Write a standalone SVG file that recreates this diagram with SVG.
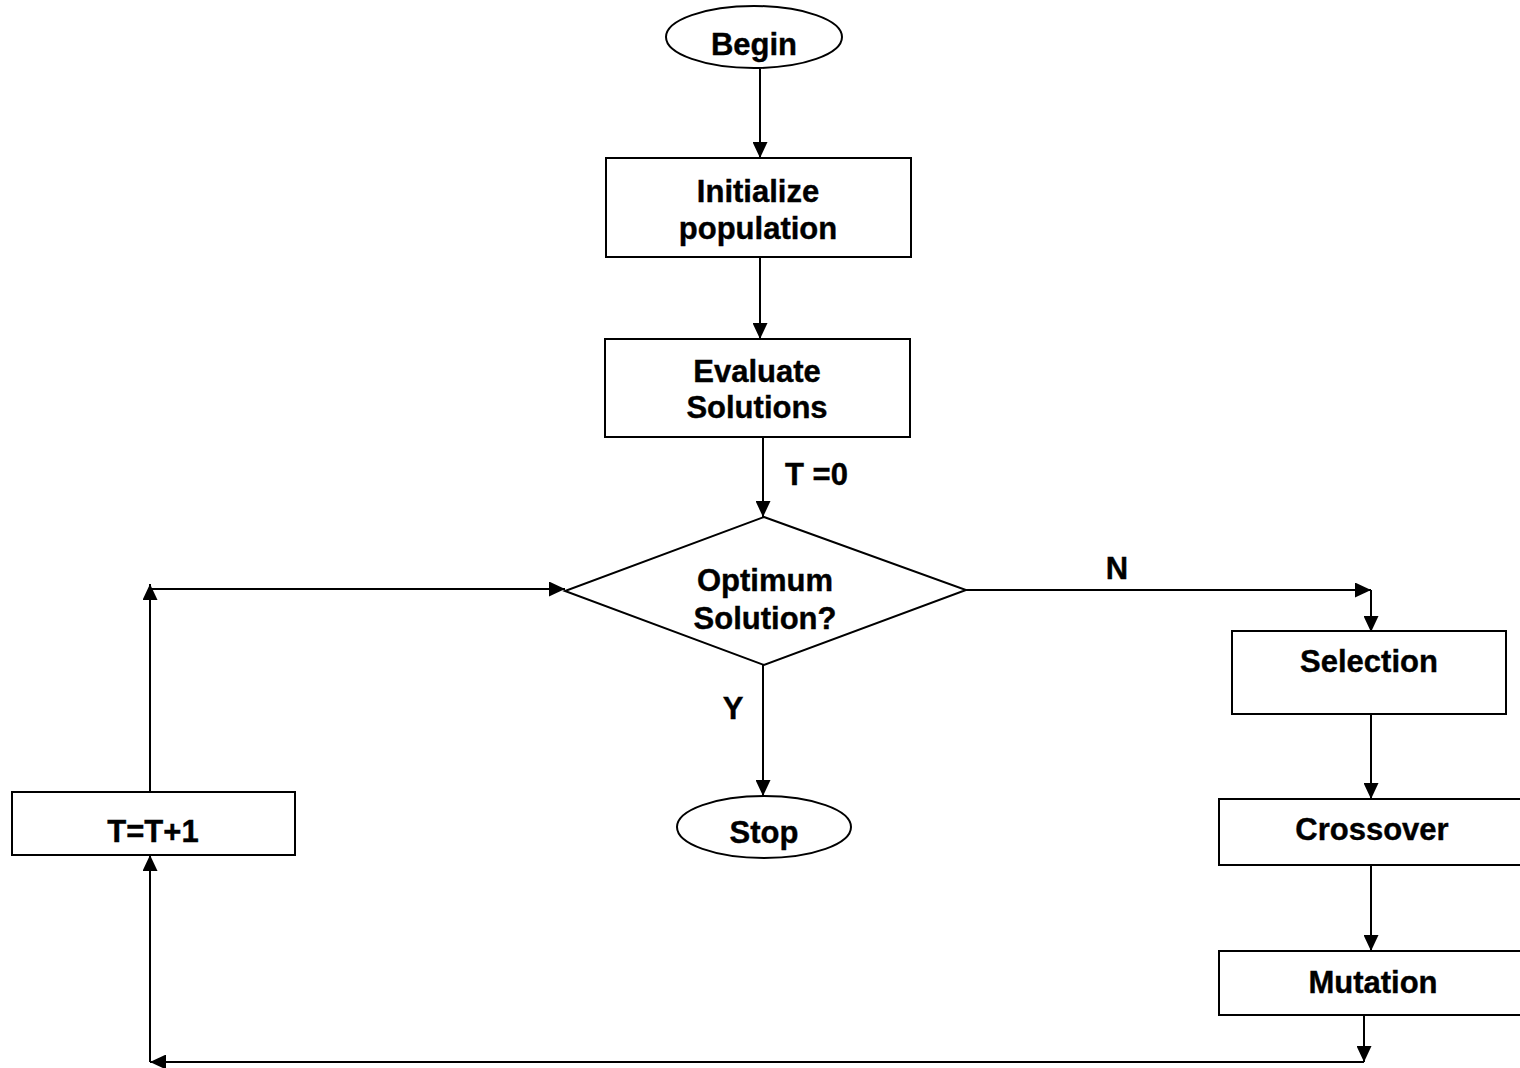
<svg xmlns="http://www.w3.org/2000/svg" width="1520" height="1068" viewBox="0 0 1520 1068">
<style>
.shape{fill:#fff;stroke:#000;stroke-width:2}
.lbl{font-family:"Liberation Sans",Arial,sans-serif;font-weight:bold;font-size:31px;fill:#000;stroke:#000;stroke-width:0.4;text-anchor:middle}
.conn{fill:none;stroke:#000;stroke-width:2}
</style>
<defs>
<marker id="arr" viewBox="0 0 16 15" refX="16" refY="7.5" markerWidth="16" markerHeight="15" orient="auto" markerUnits="userSpaceOnUse">
<path d="M0,0 L16,7.5 L0,15 z" fill="#000"/>
</marker>
</defs>
<rect width="1520" height="1068" fill="#fff"/>
<g id="connectors">
<path class="conn" d="M760,69 L760,158" marker-end="url(#arr)"/>
<path class="conn" d="M760,257 L760,339" marker-end="url(#arr)"/>
<path class="conn" d="M763,437 L763,517" marker-end="url(#arr)"/>
<path class="conn" d="M966,590 L1371,590" marker-end="url(#arr)"/>
<path class="conn" d="M1371,590 L1371,632" marker-end="url(#arr)"/>
<path class="conn" d="M1371,714 L1371,799" marker-end="url(#arr)"/>
<path class="conn" d="M1371,865 L1371,951" marker-end="url(#arr)"/>
<path class="conn" d="M1364,1015 L1364,1062" marker-end="url(#arr)"/>
<path class="conn" d="M1364,1062 L150,1062" marker-end="url(#arr)"/>
<path class="conn" d="M150,1062 L150,855" marker-end="url(#arr)"/>
<path class="conn" d="M150,792 L150,584" marker-end="url(#arr)"/>
<path class="conn" d="M150,589 L565,589" marker-end="url(#arr)"/>
<path class="conn" d="M763,665 L763,796" marker-end="url(#arr)"/>
<text class="lbl" x="785" y="485" style="text-anchor:start">T =0</text>
<text class="lbl" x="1117" y="579">N</text>
<text class="lbl" x="733" y="719">Y</text>
</g>
<g id="begin">
<ellipse class="shape" cx="754" cy="37" rx="88" ry="31"/>
<text class="lbl" x="754" y="55">Begin</text>
</g>
<g id="initialize">
<rect class="shape" x="606" y="158" width="305" height="99"/>
<text class="lbl" x="758" y="202">Initialize</text>
<text class="lbl" x="758" y="239">population</text>
</g>
<g id="evaluate">
<rect class="shape" x="605" y="339" width="305" height="98"/>
<text class="lbl" x="757" y="382">Evaluate</text>
<text class="lbl" x="757" y="418">Solutions</text>
</g>
<g id="decision">
<polygon class="shape" points="764,517 966,590 764,665 565,591"/>
<text class="lbl" x="765" y="591">Optimum</text>
<text class="lbl" x="765" y="629">Solution?</text>
</g>
<g id="selection">
<rect class="shape" x="1232" y="631" width="274" height="83"/>
<text class="lbl" x="1369" y="672">Selection</text>
</g>
<g id="crossover">
<rect class="shape" x="1219" y="799" width="305" height="66"/>
<text class="lbl" x="1372" y="840">Crossover</text>
</g>
<g id="mutation">
<rect class="shape" x="1219" y="951" width="305" height="64"/>
<text class="lbl" x="1373" y="993">Mutation</text>
</g>
<g id="increment">
<rect class="shape" x="12" y="792" width="283" height="63"/>
<text class="lbl" x="153" y="842">T=T+1</text>
</g>
<g id="stop">
<ellipse class="shape" cx="764" cy="827" rx="87" ry="31"/>
<text class="lbl" x="764" y="843">Stop</text>
</g>
</svg>
